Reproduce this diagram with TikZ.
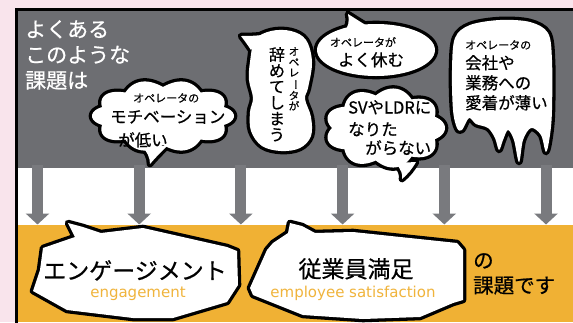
\documentclass[tikz,border=0pt]{standalone}
\usepackage{fontspec}
\setmainfont{Noto Sans CJK JP}[FakeBold=0.6]
\newfontfamily\latinfont{DejaVu Sans}
\usepackage{graphicx}
\usetikzlibrary{arrows.meta}
\definecolor{Blush}{HTML}{F9E4EC}
\definecolor{Slate}{HTML}{6D6E72}
\definecolor{ArrowGray}{HTML}{797A7E}
\definecolor{Amber}{HTML}{F0B134}
\definecolor{AmberText}{HTML}{F0B43C}
\tikzset{
  bubbleline/.style={draw=black,line width=6.6pt,line join=round},
  bubblefill/.style={fill=white},
  downarrow/.style={draw=ArrowGray,line width=11pt,-{Triangle[width=23pt,length=11pt]}},
  leadtext/.style={text=white,align=left,inner sep=0pt,font=\fontsize{21}{25.5}\selectfont},
  saysmall/.style={inner sep=0pt,font=\fontsize{11}{11}\selectfont},
  saybig/.style={inner sep=0pt,align=left,font=\fontsize{16.5}{20}\selectfont},
  termjp/.style={inner sep=0pt,font=\fontsize{23}{23}\selectfont},
  termen/.style={inner sep=0pt,text=AmberText,font=\latinfont\fontsize{15}{15}\selectfont},
  tailtext/.style={inner sep=0pt,align=left,font=\fontsize{20.5}{25}\selectfont}
}
\newcommand{\vbar}{\rotatebox[origin=c]{-90}{ー}}

\begin{document}
\begin{tikzpicture}[x=1pt,y=-1pt]
\useasboundingbox (0,0) rectangle (573,322);
\clip (0,0) rectangle (573,322);
\fill[Blush] (0,0) rectangle (573,322);
\fill[Slate] (16,9) rectangle (573,168);
\fill[white] (16,168) rectangle (573,225);
\fill[Amber] (16,225) rectangle (573,322);
\draw[line width=3pt] (16.5,330) -- (16.5,9.5) -- (580,9.5);

\foreach \x [count=\i] in {37.5,139.2,240.9,342.6,444.3,546}{
  \coordinate (src\i) at (\x,165);
  \coordinate (dst\i) at (\x,224.5);
  \draw[downarrow] (src\i) -- (dst\i);
}

\foreach \pass in {bubbleline,bubblefill}{
  \path[\pass] plot[domain=0:360,samples=181,variable=\t]
    ({163+(71+7*(abs(cos(5*\t))-1))*cos(\t)},{116+(36+7*(abs(cos(5*\t))-1))*sin(\t)}) -- cycle;
  \path[\pass] (142,146) .. controls (147,152) and (150,157) .. (150,164)
    .. controls (156,157) and (161,152) .. (167,146) -- cycle;
  \path[\pass] plot[smooth cycle,tension=0.6] coordinates {(250,62) (255,40) (271,31) (291,31) (306,40) (312,62) (308,88) (305,99) (311,117) (311,136) (300,148) (281,151) (262,146) (251,131) (250,112) (253,98) (249,80)};
  \path[\pass] (251,50) .. controls (247,44) and (244,40) .. (241,36)
    .. controls (247,36) and (253,36) .. (262,35) -- cycle;
  \path[\pass] (376,50) ellipse [x radius=59,y radius=26];
  \path[\pass] (344,33) .. controls (348,27) and (350,21) .. (348,14)
    .. controls (356,19) and (362,23) .. (369,27) -- cycle;
  \path[\pass] plot[domain=0:360,samples=181,variable=\t]
    ({385+(60+7*(abs(cos(4.5*\t))-1))*cos(\t)},{128+(40+7*(abs(cos(4.5*\t))-1))*sin(\t)}) -- cycle;
  \path[\pass] (396,163) .. controls (401,170) and (403,174) .. (402,179)
    .. controls (408,174) and (412,169) .. (416,162) -- cycle;
  \path[\pass] plot[smooth cycle,tension=0.55] coordinates {(452,70) (455,38) (470,25) (500,20) (530,22) (548,33) (552,60) (552,110) (550,135) (546,152) (541,135) (531,128) (523,140) (519,162) (514,140) (508,130) (503,140) (499,150) (495,138) (488,128) (476,124) (469,118) (462,130) (457,128) (453,110)};
  \path[\pass] (43,248) -- (75,237) -- (68,223) -- (83,227) -- (101,233) -- (143,228) -- (227,247) -- (237,251)
    -- (238,285) -- (227,302) -- (173,318) -- (133,318) -- (67,310) -- (33,291) -- (40,270) -- cycle;
  \path[\pass] (273,243) -- (288,233) -- (290,223) -- (302,226) -- (315,233) -- (353,232) -- (457,243) -- (463,250)
    -- (463,300) -- (453,303) -- (420,317) -- (363,319) -- (303,315) -- (253,295) -- (250,288) -- (267,250) -- cycle;
}

\node[leadtext,anchor=north west] (lead) at (25,20) {よくある\\このような\\課題は};
\node[saysmall,anchor=north west] (motivop) at (133,93) {オペレータの};
\node[saybig,anchor=north west] (motiv) at (110,110) {モチベーション};
\node[saybig,anchor=north west] (motivlow) at (118,132) {が低い};
\node[saybig,anchor=north,align=center,font=\fontsize{16}{16}\selectfont] (quit) at (277,47) {辞\\め\\て\\し\\ま\\う};
\node[saysmall,anchor=north,align=center,font=\fontsize{10.5}{10.5}\selectfont] (quitop) at (294,47) {オ\\ペ\\レ\\\vbar\\タ\\が};
\node[saysmall,anchor=north] (absentop) at (363,37) {オペレータが};
\node[saybig,anchor=north] (absent) at (371,52) {よく休む};
\node[saybig,anchor=north west] (promo) at (348,100) {SVやLDRに};
\node[saybig,anchor=north west] (promo2) at (348,122) {なりた};
\node[saybig,anchor=north west] (promo3) at (365,140) {がらない};
\node[saysmall,anchor=north west] (loyalop) at (465,40) {オペレータの};
\node[saybig,anchor=north west] (loyal) at (465,55) {会社や\\業務への\\愛着が薄い};
\node[termjp,anchor=north] (engage) at (135,260) {エンゲージメント};
\node[termen,anchor=base] (engageen) at (138,297) {engagement};
\node[termjp,anchor=north] (satisfy) at (356,258) {従業員満足};
\node[termen,anchor=base] (satisfyen) at (353,297) {employee satisfaction};
\node[tailtext,anchor=north west] (issue) at (473,253) {の\\課題です};
\end{tikzpicture}
\end{document}
